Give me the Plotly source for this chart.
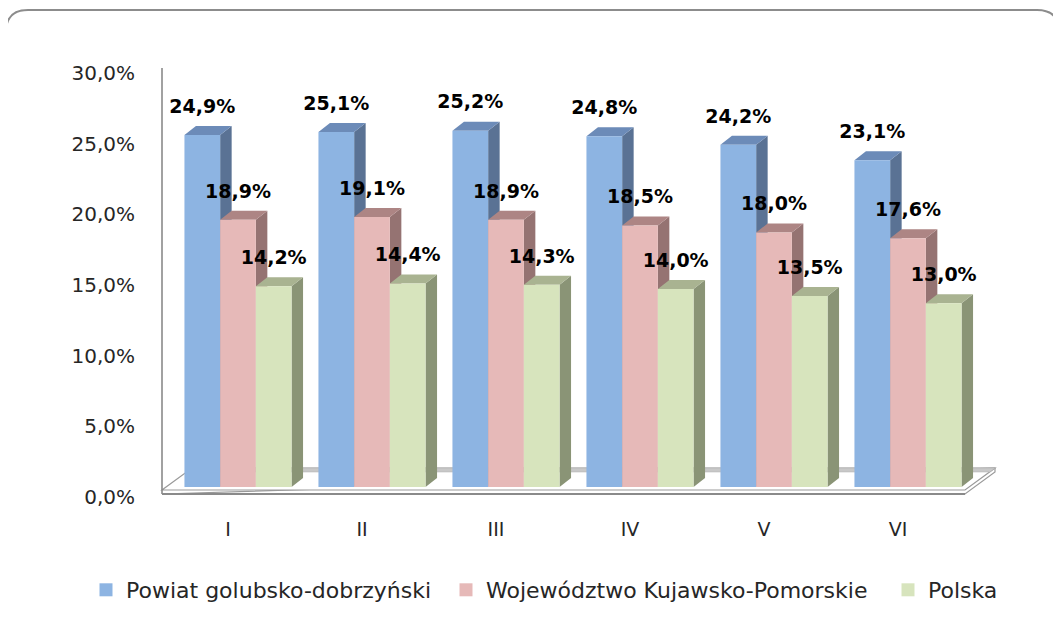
import plotly.graph_objects as go

# ---------------- data ----------------
categories = ["I", "II", "III", "IV", "V", "VI"]
series_names = ["Powiat golubsko-dobrzyński", "Województwo Kujawsko-Pomorskie", "Polska"]
powiat = [24.9, 25.1, 25.2, 24.8, 24.2, 23.1]
wojewodztwo = [18.9, 19.1, 18.9, 18.5, 18.0, 17.6]
polska = [14.2, 14.4, 14.3, 14.0, 13.5, 13.0]
y_tick_vals = [0, 5, 10, 15, 20, 25, 30]
y_tick_text = ["0,0%", "5,0%", "10,0%", "15,0%", "20,0%", "25,0%", "30,0%"]

# ---------------- styling ----------------
front_cols = ["#8DB4E2", "#E6B9B8", "#D7E4BD"]
top_cols = ["#6C8BB8", "#AD8584", "#A9B391"]
side_cols = ["#5A7294", "#957372", "#8A9476"]
FONT = "DejaVu Sans"
TXT = "#262626"

# page body has an 8 px margin: figure pixel = screen pixel - OFF
OFF = 8
W, H = 1061 - OFF, 623 - OFF
PL, PR, PT, PB = 162, 1000, 60, 500          # plot area in screen px
PW, PH = PR - PL, PB - PT
L, R, T, B = PL - OFF, W - (PR - OFF), PT - OFF, H - (PB - OFF)

# pixel scales (x: one category = 134 px; y: 1 % = 14.14 px)
XS, YS = 134.0, 14.14
X0PX = 238.0          # front centre of first category (screen px)
BASE_PX = 487.0       # bar base (front)
TICK0_PX = 497.0      # 0,0% tick label position
bar_w = 35.7 / XS
dx = 11.5 / XS        # 3D depth offsets in data units
dy = 9.0 / YS
label_shift = -10.0 / XS
label_off = 27.0 / YS
legend_sym_px = [106, 466, 908]   # legend square centres (screen px)

x_range = [(PL - X0PX) / XS, (PR - X0PX) / XS]
y_range = [(BASE_PX - PB) / YS, (BASE_PX - PT) / YS]
y2_range = [(TICK0_PX - PB) / YS, (TICK0_PX - PT) / YS]


def fx(px):
    return (px - PL) / PW


def fy(py):
    return (PB - py) / PH


fig = go.Figure()

all_series = [powiat, wojewodztwo, polska]
n = len(all_series)
for j, vals in enumerate(all_series):
    fx_, fy_, tx_, ty_, sx_, sy_ = [], [], [], [], [], []
    for i, v in enumerate(vals):
        x0 = i + (j - n / 2) * bar_w
        x1 = x0 + bar_w
        fx_ += [x0, x1, x1, x0, x0, None]
        fy_ += [0, 0, v, v, 0, None]
        tx_ += [x0, x1, x1 + dx, x0 + dx, x0, None]
        ty_ += [v, v, v + dy, v + dy, v, None]
        sx_ += [x1, x1 + dx, x1 + dx, x1, x1, None]
        sy_ += [0, dy, v + dy, v, 0, None]
    for xs, ys, col in [(sx_, sy_, side_cols[j]), (tx_, ty_, top_cols[j]), (fx_, fy_, front_cols[j])]:
        fig.add_trace(go.Scatter(x=xs, y=ys, mode="lines", fill="toself", fillcolor=col,
                                 line=dict(width=0, color=col), showlegend=False,
                                 hoverinfo="skip", yaxis="y"))

# data labels
for j, vals in enumerate(all_series):
    xs = [i + (j - n / 2) * bar_w + bar_w / 2 for i in range(len(vals))]
    ys = [v + label_off for v in vals]
    txt = [f"{v:.1f}".replace(".", ",") + "%" for v in vals]
    fig.add_trace(go.Scatter(x=xs, y=ys, mode="text", text=txt, textposition="middle center",
                             textfont=dict(family=FONT, size=19, color="#000000", weight="bold"),
                             showlegend=False, hoverinfo="skip", yaxis="y"))

# legend entries (one legend per entry to place them like the original)
legend_names = ["legend", "legend2", "legend3"]
for j, name in enumerate(series_names):
    fig.add_trace(go.Scatter(x=[None], y=[None], mode="markers", name=name,
                             legend=legend_names[j],
                             marker=dict(symbol="square", size=13, color=front_cols[j]),
                             yaxis="y"))

# ---------------- decorations (floor, axis line, frame) ----------------
shapes = []
fl, fr, fyy = 162, 965, 490
ddx, ddy = 30, 22


def poly(pts):
    return "M " + " L ".join(f"{fx(a):.5f},{fy(b):.5f}" for a, b in pts) + " Z"


shapes.append(dict(type="path", xref="paper", yref="paper", layer="below",
                   path=poly([(fl, fyy + 4), (fr, fyy + 4), (fr + ddx, fyy - ddy + 4), (fr + ddx, fyy - ddy)]),
                   fillcolor="#FFFFFF", line=dict(color="#9A9A9A", width=1.2)))
shapes.append(dict(type="path", xref="paper", yref="paper", layer="below",
                   path=poly([(fl, fyy), (fr, fyy), (fr + ddx, fyy - ddy), (fl + ddx, fyy - ddy)]),
                   fillcolor="#FFFFFF", line=dict(color="#9A9A9A", width=1.2)))
shapes.append(dict(type="path", xref="paper", yref="paper", layer="below",
                   path=poly([(fl + ddx, fyy - ddy), (fr + ddx, fyy - ddy), (fr + ddx - 5, fyy - ddy + 4), (fl + ddx, fyy - ddy + 4)]),
                   fillcolor="#C8C8C8", line=dict(color="#B0B0B0", width=0.5)))
shapes.append(dict(type="line", xref="paper", yref="paper", layer="below",
                   x0=fx(fl), x1=fx(fr), y0=fy(fyy + 4), y1=fy(fyy + 4),
                   line=dict(color="#8A8A8A", width=2)))
# vertical axis line
shapes.append(dict(type="line", xref="paper", yref="paper", layer="below",
                   x0=fx(162), x1=fx(162), y0=fy(68), y1=fy(fyy + 4),
                   line=dict(color="#8A8A8A", width=1.6)))
# rounded outer frame
x_a, x_b, y_a, y_b, r = 6, 1059, 10, 660, 22
frame = (f"M {fx(x_a)},{fy(y_b)} L {fx(x_a)},{fy(y_a + r)} "
         f"Q {fx(x_a)},{fy(y_a)} {fx(x_a + r)},{fy(y_a)} "
         f"L {fx(x_b - r)},{fy(y_a)} Q {fx(x_b)},{fy(y_a)} {fx(x_b)},{fy(y_a + r)} "
         f"L {fx(x_b)},{fy(y_b)}")
shapes.append(dict(type="path", xref="paper", yref="paper", layer="below", path=frame,
                   line=dict(color="#8C8C8C", width=2)))

legend_common = dict(orientation="h", xanchor="left", yanchor="middle", y=fy(590),
                     font=dict(family=FONT, size=22, color=TXT), bgcolor="rgba(0,0,0,0)",
                     borderwidth=0)

fig.update_layout(
    width=W, height=H, autosize=False,
    margin=dict(l=L, r=R, t=T, b=B, pad=0),
    paper_bgcolor="#FFFFFF", plot_bgcolor="rgba(0,0,0,0)",
    font=dict(family=FONT, size=19, color=TXT),
    shapes=shapes,
    showlegend=True,
    legend=dict(x=fx(legend_sym_px[0] - 20), **legend_common),
    legend2=dict(x=fx(legend_sym_px[1] - 20), **legend_common),
    legend3=dict(x=fx(legend_sym_px[2] - 20), **legend_common),
    xaxis=dict(range=x_range, showgrid=False, zeroline=False, showline=False,
               tickvals=[i + label_shift for i in range(len(categories))], ticktext=categories,
               ticks="outside", ticklen=12, tickcolor="rgba(0,0,0,0)",
               tickfont=dict(family=FONT, size=19, color=TXT), fixedrange=True),
    yaxis=dict(range=y_range, visible=False, showgrid=False, zeroline=False, fixedrange=True),
    yaxis2=dict(range=y2_range, overlaying="y", side="left", anchor="x", showgrid=False,
                zeroline=False, showline=False, tickvals=y_tick_vals, ticktext=y_tick_text,
                ticks="outside", ticklen=22, tickcolor="rgba(0,0,0,0)",
                tickfont=dict(family=FONT, size=20, color=TXT), fixedrange=True),
    hovermode=False,
)
fig.add_trace(go.Scatter(x=[None], y=[None], yaxis="y2", showlegend=False, hoverinfo="skip"))

fig.write_html("out.html")
